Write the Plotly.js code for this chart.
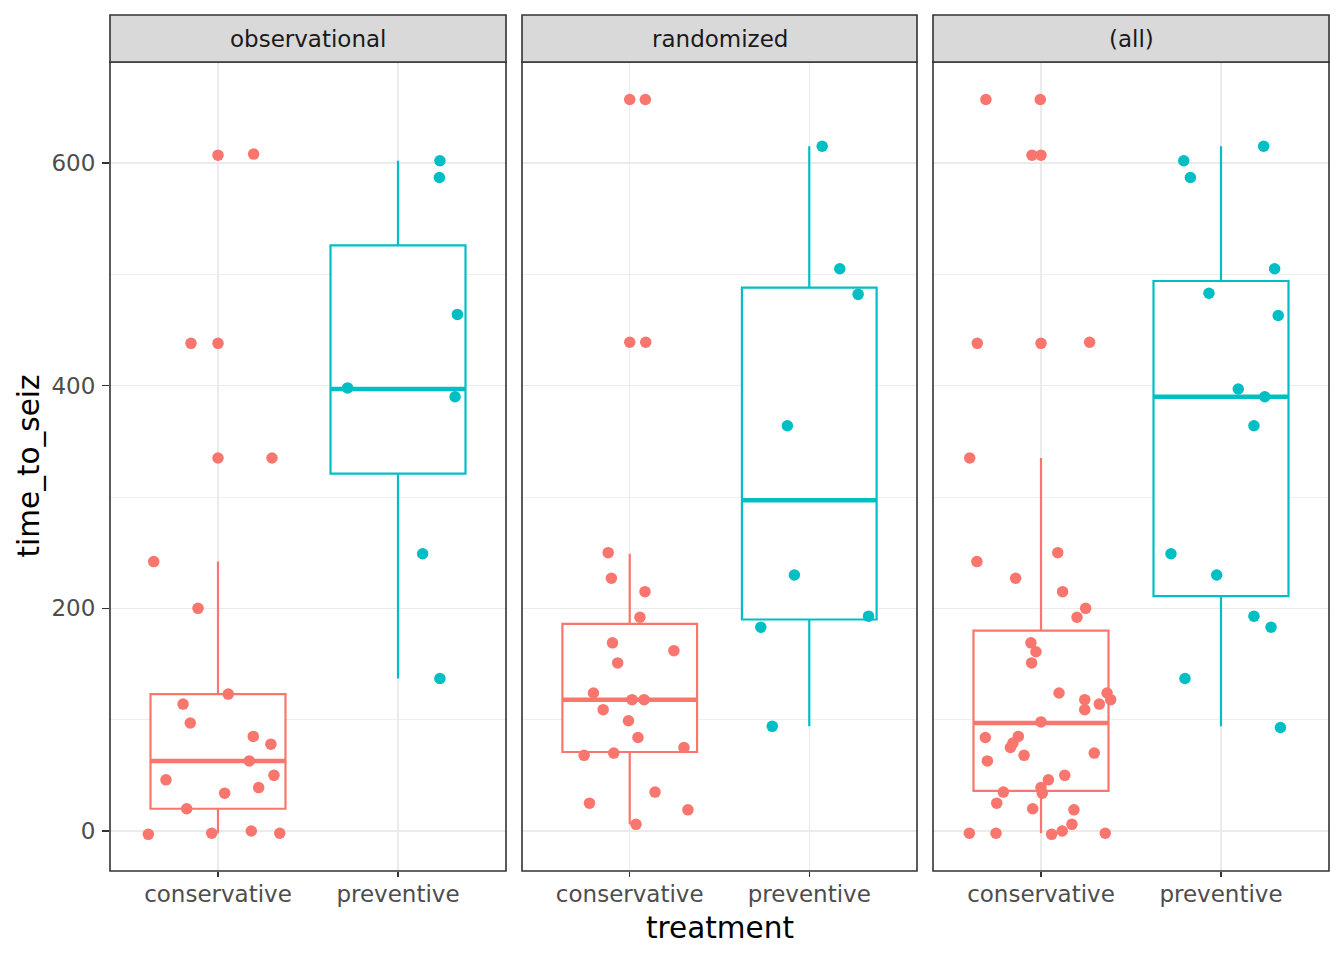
<!DOCTYPE html>
<html>
<head>
<meta charset="utf-8">
<script src="https://cdn.plot.ly/plotly-3.0.1.min.js"></script>
<style>html,body{margin:0;padding:0;background:#fff;}#chart{width:1344px;height:960px;}</style>
</head>
<body>
<div id="chart"></div>
<script>
// ---- Data ----
const facets = ["observational", "randomized", "(all)"];
const treatments = ["conservative", "preventive"];
const colors = {conservative: "#F8766D", preventive: "#00BFC4"};

// time_to_seiz values and horizontal jitter offsets, per facet and treatment
const obsConsValues = [607, 608, 438, 438, 335, 335, 242, 200, 123, 114, 97, 85, 78, 63, 46, 50, 39, 34, 20, -3, -2, 0, -2];
const obsConsJitter = [0, 0.198, -0.15, 0, 0, 0.30, -0.357, -0.111, 0.057, -0.194, -0.154, 0.196, 0.294, 0.174, -0.289, 0.311, 0.226, 0.037, -0.174, -0.387, -0.035, 0.185, 0.343];
const obsPrevValues = [602, 587, 464, 398, 390, 249, 137];
const obsPrevJitter = [0.233, 0.23, 0.33, -0.28, 0.317, 0.137, 0.233];

const randConsValues = [657, 657, 439, 439, 250, 227, 215, 192, 169, 162, 151, 124, 118, 118, 109, 99, 84, 75, 68, 70, 35, 25, 19, 6];
const randConsJitter = [0, 0.087, 0, 0.089, -0.12, -0.102, 0.085, 0.057, -0.096, 0.246, -0.067, -0.202, 0.013, 0.08, -0.148, -0.007, 0.046, 0.302, -0.254, -0.089, 0.141, -0.224, 0.324, 0.035];
const randPrevValues = [615, 505, 482, 364, 230, 193, 183, 94];
const randPrevJitter = [0.072, 0.17, 0.272, -0.122, -0.083, 0.33, -0.27, -0.206];

const allConsValues = [657, 657, 607, 607, 438, 438, 439, 335, 242, 250, 227, 215, 200, 192, 169, 161, 151, 124, 118, 124, 118, 114, 109, 98, 84, 85, 79, 75, 63, 68, 70, 50, 46, 39, 34, 35, 25, 20, 19, 6, -2, -2, -3, 0, -2];
const allConsJitter = [-0.306, -0.004, -0.05, 0, -0.354, 0, 0.27, -0.396, -0.356, 0.093, -0.141, 0.12, 0.248, 0.2, -0.056, -0.028, -0.052, 0.1, 0.243, 0.367, 0.387, 0.324, 0.243, 0, -0.309, -0.126, -0.156, -0.17, -0.298, -0.094, 0.296, 0.132, 0.041, 0, 0.007, -0.209, -0.246, -0.046, 0.183, 0.172, -0.398, -0.25, 0.059, 0.118, 0.357];
const allPrevValues = [615, 602, 587, 505, 483, 463, 397, 390, 364, 249, 230, 193, 183, 137, 93];
const allPrevJitter = [0.237, -0.207, -0.17, 0.298, -0.067, 0.318, 0.096, 0.243, 0.183, -0.278, -0.024, 0.183, 0.278, -0.2, 0.33];

// box statistics per facet: [conservative, preventive]
const boxLower  = [[-2, 137], [6, 94], [-2, 94]];
const boxQ1     = [[20, 321], [71, 190], [36, 211]];
const boxMedian = [[63, 397], [118, 297], [97, 390]];
const boxQ3     = [[123, 526], [186, 488], [180, 494]];
const boxUpper  = [[242, 602], [249, 615], [335, 615]];

const pointValues = [[obsConsValues, obsPrevValues], [randConsValues, randPrevValues], [allConsValues, allPrevValues]];
const pointJitter = [[obsConsJitter, obsPrevJitter], [randConsJitter, randPrevJitter], [allConsJitter, allPrevJitter]];

const yTicks = [0, 200, 400, 600];

// ---- Layout helpers ----
const W = 1344, H = 960;
const panelPx = [[110, 506], [522, 917], [933, 1329]];
const plotTop = 62, plotBottom = 871, stripTop = 15;
const boxWidth = 0.75;
const font = "DejaVu Sans, Liberation Sans, sans-serif";
const tickSize = 23, titleSize = 29.5;

const traces = [];
const layout = {
  width: W, height: H,
  margin: {l: 0, r: 0, t: 0, b: 0},
  paper_bgcolor: "#FFFFFF",
  plot_bgcolor: "#FFFFFF",
  showlegend: false,
  font: {family: font, color: "#000000"},
  shapes: [],
  annotations: []
};

facets.forEach((facet, f) => {
  const sfx = f === 0 ? "" : String(f + 1);
  const xa = "x" + sfx, ya = "y" + sfx;
  const dom = [panelPx[f][0] / W, panelPx[f][1] / W];
  layout["xaxis" + sfx] = {
    domain: dom, anchor: ya, range: [0.4, 2.6],
    tickvals: [1, 2], ticktext: treatments,
    showgrid: true, gridcolor: "#EBEBEB", gridwidth: 1.5,
    zeroline: false, showline: false,
    ticks: "outside", ticklen: 5, tickwidth: 1.5, tickcolor: "#333333",
    ticklabelstandoff: -3,
    tickfont: {family: font, size: tickSize, color: "#4D4D4D"},
    fixedrange: true, automargin: false
  };
  layout["yaxis" + sfx] = {
    domain: [1 - plotBottom / H, 1 - plotTop / H], anchor: xa,
    range: [-35.9, 690.7],
    tickvals: yTicks, ticktext: yTicks.map(String),
    showticklabels: f === 0,
    ticks: f === 0 ? "outside" : "", ticklen: 7, tickwidth: 1.5, tickcolor: "#333333",
    ticklabelstandoff: 2,
    showgrid: true, gridcolor: "#EBEBEB", gridwidth: 1.5,
    minor: {dtick: 100, tick0: 0, showgrid: true, gridcolor: "#EBEBEB", gridwidth: 0.8, ticks: ""},
    zeroline: false, showline: false,
    tickfont: {family: font, size: tickSize, color: "#4D4D4D"},
    fixedrange: true, automargin: false
  };
  // panel border
  layout.shapes.push({type: "rect", xref: "paper", yref: "paper",
    x0: dom[0], x1: dom[1], y0: 1 - plotBottom / H, y1: 1 - plotTop / H,
    line: {color: "#333333", width: 1.6}, fillcolor: "rgba(0,0,0,0)", layer: "above"});
  // strip
  layout.shapes.push({type: "rect", xref: "paper", yref: "paper",
    x0: dom[0], x1: dom[1], y0: 1 - plotTop / H, y1: 1 - stripTop / H,
    line: {color: "#333333", width: 1.6}, fillcolor: "#D9D9D9", layer: "above"});
  layout.annotations.push({xref: "paper", yref: "paper",
    x: (dom[0] + dom[1]) / 2, y: 1 - (plotTop + stripTop) / 2 / H,
    text: facet, showarrow: false, xanchor: "center", yanchor: "middle",
    font: {family: font, size: tickSize, color: "#1A1A1A"}});

  treatments.forEach((t, k) => {
    const pos = k + 1;
    traces.push({
      type: "box", xaxis: xa, yaxis: ya,
      x: [pos], q1: [boxQ1[f][k]], median: [boxMedian[f][k]], q3: [boxQ3[f][k]],
      lowerfence: [boxLower[f][k]], upperfence: [boxUpper[f][k]],
      width: boxWidth, whiskerwidth: 0, boxpoints: false,
      line: {color: colors[t], width: 2.2}, fillcolor: "#FFFFFF",
      hoverinfo: "skip"
    });
    // thicker median line
    traces.push({
      type: "scatter", mode: "lines", xaxis: xa, yaxis: ya,
      x: [pos - boxWidth / 2, pos + boxWidth / 2],
      y: [boxMedian[f][k], boxMedian[f][k]],
      line: {color: colors[t], width: 4.5}, hoverinfo: "skip"
    });
    traces.push({
      type: "scatter", mode: "markers", xaxis: xa, yaxis: ya,
      x: pointJitter[f][k].map(j => pos + j),
      y: pointValues[f][k],
      marker: {color: colors[t], size: 11.5, line: {width: 0}},
      hoverinfo: "skip"
    });
  });
});

// axis titles
layout.annotations.push({xref: "paper", yref: "paper",
  x: (panelPx[1][0] + panelPx[1][1]) / 2 / W, y: 1 - 928 / H,
  text: "treatment", showarrow: false, xanchor: "center", yanchor: "middle",
  font: {family: font, size: titleSize, color: "#000000"}});
layout.annotations.push({xref: "paper", yref: "paper",
  x: 28 / W, y: 1 - (plotTop + plotBottom) / 2 / H,
  text: "time_to_seiz", showarrow: false, textangle: -90, xanchor: "center", yanchor: "middle",
  font: {family: font, size: titleSize, color: "#000000"}});

Plotly.newPlot("chart", traces, layout, {displayModeBar: false, staticPlot: true});
</script>
</body>
</html>
